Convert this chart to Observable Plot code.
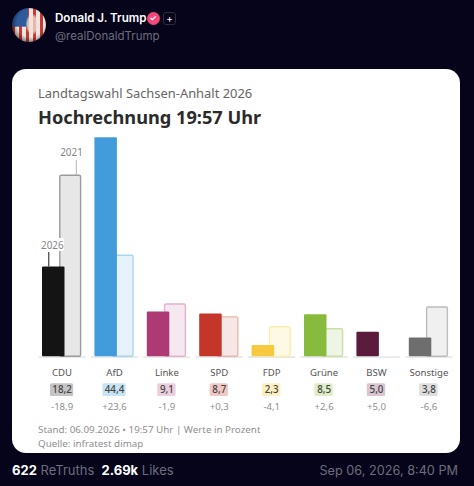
<!DOCTYPE html>
<html lang="de">
<head>
<meta charset="utf-8">
<script src="https://cdn.jsdelivr.net/npm/d3@7"></script>
<script src="https://cdn.jsdelivr.net/npm/@observablehq/plot@0.6"></script>
<style>
html,body{margin:0;padding:0;width:474px;height:486px;overflow:hidden;background:#05041a;}
#page{position:relative;width:474px;height:486px;font-family:Inter,sans-serif;}
#page>*{position:absolute;white-space:nowrap;}
#card{left:12px;top:69px;width:448px;height:384px;background:#fff;border-radius:14px;}
#chart{left:0;top:0;}
#avatar{left:12px;top:8px;width:34px;height:34px;border-radius:50%;
background:
 radial-gradient(circle at 55% 45%,rgba(0,0,0,0) 52%,rgba(10,5,10,.9) 92%),
 radial-gradient(ellipse 7px 11px at 60% 48%,rgba(240,225,215,.75) 0 70%,rgba(0,0,0,0) 100%),
 linear-gradient(#2f5a9c,#2f5a9c) 0 0/48% 55% no-repeat,
 repeating-linear-gradient(90deg,#c8392f 0 3.5px,#ece6e2 3.5px 7px);}
#name{left:55px;top:11px;color:#fff;font-weight:600;font-size:11.6px;line-height:15px;}
#handle{left:55px;top:29px;color:#6d6d7a;font-size:11.5px;line-height:15px;}
#badge{left:146.5px;top:12px;width:13px;height:13px;border-radius:50%;background:#f0487a;color:#fff;font-size:8px;line-height:13px;text-align:center;font-weight:700;}
#plus{left:163px;top:12px;width:11px;height:11px;border:1px solid #2c2c3c;border-radius:3px;color:#fff;font-size:10px;line-height:11px;text-align:center;}
#sub{left:38px;top:84px;color:#666;font-family:"Noto Sans",sans-serif;font-size:12.9px;line-height:18px;}
#title{left:38px;top:104px;color:#2b2b2b;font-family:"Noto Sans",sans-serif;font-weight:700;font-size:18.2px;line-height:27px;}
.foot{left:38px;color:#8f8f8f;font-family:"Noto Sans",sans-serif;font-size:9.8px;line-height:14px;}
#stats{left:12px;top:462px;color:#6d6d7a;font-size:13px;line-height:17px;}
#stats b{color:#fff;font-weight:700;}
#date{right:16px;top:462px;color:#6d6d7a;font-size:12.7px;line-height:17px;}
</style>
</head>
<body>
<div id="page">
  <div id="avatar"></div>
  <div id="name">Donald J. Trump</div>
  <div id="badge">✓</div>
  <div id="plus">+</div>
  <div id="handle">@realDonaldTrump</div>
  <div id="card"></div>
  <div id="sub">Landtagswahl Sachsen-Anhalt 2026</div>
  <div id="title">Hochrechnung 19:57 Uhr</div>
  <div id="chart"></div>
  <div class="foot" style="top:423px">Stand: 06.09.2026 • 19:57 Uhr | Werte in Prozent</div>
  <div class="foot" style="top:437px">Quelle: infratest dimap</div>
  <div id="stats"><b>622</b> ReTruths &nbsp;<b>2.69k</b> Likes</div>
  <div id="date">Sep 06, 2026, 8:40 PM</div>
</div>
<script>
const parties = ["CDU","AfD","Linke","SPD","FDP","Grüne","BSW","Sonstige"];
const values2026 = [18.2,44.4,9.1,8.7,2.3,8.5,5.0,3.8];
const values2021 = [36.7,20.5,10.6,8.0,6.0,5.6,0,10.0];
const deltaLabels = ["-18,9","+23,6","-1,9","+0,3","-4,1","+2,6","+5,0","-6,6"];
const valueLabels = ["18,2","44,4","9,1","8,7","2,3","8,5","5,0","3,8"];

const colors2026 = ["#141414","#429bdb","#ae3a75","#c4352a","#f6c93f","#87ba3d","#5b1b3c","#6e6e6e"];
const fills2021 = ["#e7e7e7","#e6f3fb","#f6e8f0","#f6e6e5","#fdf9e5","#eff5e5","#efe7ec","#f0f0f0"];
const strokes2021 = ["#9b9b9b","#a8d6f0","#e5b1cd","#ebb5b1","#fbeeb2","#c9e0a4","#dccdd6","#bcbcbc"];
const pillFills = ["#c4c4c4","#c7e4f6","#ebcfde","#f0c9c6","#fcf0c0","#dfedc9","#d8c6d0","#dedede"];

const rows = parties.map((party,i)=>({party,v26:values2026[i],v21:values2021[i],delta:deltaLabels[i],label:valueLabels[i],
  c26:colors2026[i],f21:fills2021[i],s21:strokes2021[i],pill:pillFills[i]}));
const cdu = rows.slice(0,1);
const shortLabels = rows.filter(d=>d.label.length===3);
const longLabels = rows.filter(d=>d.label.length===4);
const font = '"Noto Sans",sans-serif';

const plot = Plot.plot({
  width:474,height:486,margin:0,
  style:{background:"transparent",fontFamily:font},
  x:{type:"band",domain:parties,range:[35.4,454.6],padding:0,round:false,axis:null},
  y:{type:"linear",domain:[0,44.4],range:[356.3,137.3],axis:null},
  marks:[
    Plot.barY(rows,{x:"party",y1:0,y2:0,dy:0.8,insetLeft:3,insetRight:2.4,insetTop:-0.8,insetBottom:-0.8,fill:"#e6e6e6"}),
    Plot.ruleX(cdu,{x:"party",y1:"v21",y2:()=>39.8,dx:14.2,stroke:"#b5b5b5",strokeWidth:1}),
    Plot.barY(rows,{x:"party",y1:0,y2:"v21",insetLeft:24.4,insetRight:7.2,rx:1.5,fill:"f21",stroke:"s21",strokeWidth:1.4}),
    Plot.barY(rows,{x:"party",y1:0,y2:"v26",insetLeft:6.6,insetRight:23.3,rx:1,fill:"c26"}),
    Plot.ruleX(cdu,{x:"party",y1:"v26",y2:()=>21.15,dx:-13.3,stroke:"#141414",strokeWidth:1}),
    Plot.barY(cdu,{x:"party",y1:"v26",y2:"v26",dy:-22,insetLeft:4.6,insetRight:23.8,insetTop:-6.5,insetBottom:-6.5,rx:1.5,fill:"#fff"}),
    Plot.text(cdu,{x:"party",y:"v26",dx:-9.8,dy:-21.6,text:()=>"2026",fill:"#858585",fontSize:9.9}),
    Plot.text(cdu,{x:"party",y:"v21",dx:9.4,dy:-22.7,text:()=>"2021",fill:"#858585",fontSize:9.9}),
    Plot.text(rows,{x:"party",y:0,dy:16.4,text:"party",fill:"#555",fontSize:9.6}),
    Plot.barY(longLabels,{x:"party",y1:0,y2:0,dy:33.4,insetLeft:14.6,insetRight:14.6,insetTop:-6.4,insetBottom:-6.4,rx:1.5,fill:"pill"}),
    Plot.barY(shortLabels,{x:"party",y1:0,y2:0,dy:33.4,insetLeft:17,insetRight:17,insetTop:-6.4,insetBottom:-6.4,rx:1.5,fill:"pill"}),
    Plot.text(rows,{x:"party",y:0,dy:33.4,text:"label",fill:"#444",fontSize:9.8,fontWeight:500}),
    Plot.text(rows,{x:"party",y:0,dy:50.4,text:"delta",fill:"#8f8f8f",fontSize:9.6})
  ]
});
document.getElementById("chart").appendChild(plot);
</script>
</body>
</html>
